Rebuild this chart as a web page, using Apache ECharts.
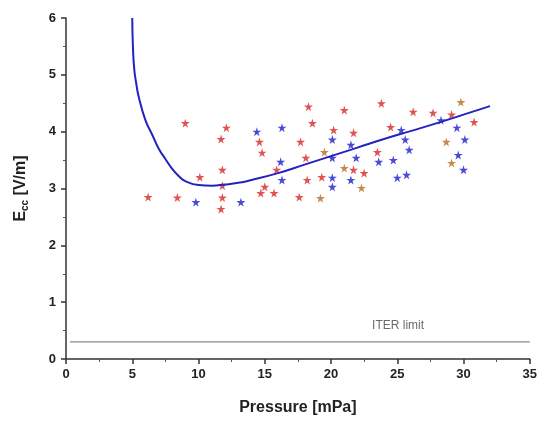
<!DOCTYPE html>
<html>
<head>
<meta charset="utf-8">
<script src="https://cdn.jsdelivr.net/npm/echarts@6/dist/echarts.min.js"></script>
<style>
  html, body { margin: 0; padding: 0; background: #ffffff; }
  #chart { width: 540px; height: 422px; }
</style>
</head>
<body>
<div id="chart"></div>
<script>
// Fitted breakdown field vs pressure
const fitCurve = [
  [5.0, 6.0], [5.05, 5.5], [5.15, 5.1], [5.3, 4.85], [5.5, 4.6], [6.0, 4.2], [6.5, 3.95],
  [7.0, 3.7], [7.5, 3.52], [8.0, 3.35], [8.5, 3.22], [9.0, 3.13], [10, 3.06],
  [11, 3.05], [12, 3.07], [13, 3.1], [14, 3.15], [16, 3.27], [18, 3.42],
  [20, 3.57], [22, 3.72], [24, 3.87], [26, 4.01], [28, 4.15], [30, 4.3], [32, 4.45]
];

// Measured discharges
const redShots = [
  [9.0, 4.15], [12.1, 4.07], [11.7, 3.87], [6.2, 2.85], [8.4, 2.84], [10.1, 3.2],
  [11.8, 3.33], [11.8, 3.05], [11.8, 2.84], [11.7, 2.64], [18.3, 4.44], [21.0, 4.38],
  [23.8, 4.5], [18.6, 4.15], [20.2, 4.03], [14.6, 3.82], [17.7, 3.82], [21.7, 3.98],
  [24.5, 4.08], [14.8, 3.63], [23.5, 3.64], [18.1, 3.54], [15.9, 3.33], [18.2, 3.15],
  [19.3, 3.2], [21.7, 3.33], [22.5, 3.27], [15.0, 3.03], [15.7, 2.92], [17.6, 2.85],
  [14.7, 2.92], [26.2, 4.35], [27.7, 4.33], [29.1, 4.3], [30.8, 4.17]
];
const blueShots = [
  [9.8, 2.76], [13.2, 2.76], [14.4, 4.0], [16.3, 4.07], [20.1, 3.86], [21.5, 3.77],
  [16.2, 3.47], [20.1, 3.54], [21.9, 3.54], [23.6, 3.47], [24.7, 3.5], [16.3, 3.15],
  [20.1, 3.19], [20.1, 3.03], [21.5, 3.15], [25.0, 3.19], [25.7, 3.24], [28.3, 4.2],
  [29.5, 4.07], [30.1, 3.86], [25.3, 4.03], [25.6, 3.86], [25.9, 3.68], [29.6, 3.59],
  [30.0, 3.33]
];
const orangeShots = [
  [19.5, 3.64], [21.0, 3.36], [22.3, 3.01], [19.2, 2.83], [29.8, 4.52], [28.7, 3.82],
  [29.1, 3.45]
];

// ITER operating limit
const iterLimit = 0.3;
const iterLabelPos = [23.1, 0.58];

const xTicks = [0, 5, 10, 15, 20, 25, 30, 35];
const yTicks = [0, 1, 2, 3, 4, 5, 6];

const starPath = 'path://M50,0 L61,35 L98,35 L68,57 L79,91 L50,70 L21,91 L32,57 L2,35 L39,35 Z';
const fontFamily = '"Liberation Sans", Arial, sans-serif';

const chart = echarts.init(document.getElementById('chart'), null, { renderer: 'canvas' });

function shotSeries(data, color) {
  return {
    type: 'scatter',
    data: data,
    symbol: starPath,
    symbolSize: 9,
    itemStyle: { color: color, opacity: 0.85 },
    z: 3
  };
}

chart.setOption({
  animation: false,
  backgroundColor: '#ffffff',
  grid: { left: 66, right: 9, top: 18, bottom: 63 },
  xAxis: {
    type: 'value',
    min: xTicks[0],
    max: xTicks[xTicks.length - 1],
    interval: 5,
    name: 'Pressure [mPa]',
    nameLocation: 'middle',
    nameGap: 41,
    nameTextStyle: { fontFamily, fontSize: 16, fontWeight: 'bold', color: '#222' },
    axisLine: { lineStyle: { color: '#333', width: 1.5 } },
    axisTick: { inside: false, length: 5, lineStyle: { color: '#333', width: 1.5 } },
    minorTick: { show: true, splitNumber: 2, length: 3, lineStyle: { color: '#555' } },
    splitLine: { show: false },
    axisLabel: { fontFamily, fontSize: 13, fontWeight: 'bold', color: '#222', margin: 9 }
  },
  yAxis: {
    type: 'value',
    min: yTicks[0],
    max: yTicks[yTicks.length - 1],
    interval: 1,
    name: '{e|E}{s|cc}{e| [V/m]}',
    nameLocation: 'middle',
    nameGap: 36,
    nameTextStyle: {
      fontFamily, color: '#222',
      rich: {
        e: { fontFamily, fontSize: 16, fontWeight: 'bold', color: '#222' },
        s: { fontFamily, fontSize: 10, fontWeight: 'bold', color: '#222', verticalAlign: 'bottom', padding: [8, 0, 0, 0] }
      }
    },
    axisLine: { show: true, lineStyle: { color: '#333', width: 1.5 } },
    axisTick: { show: true, inside: false, length: 5, lineStyle: { color: '#333', width: 1.5 } },
    minorTick: { show: true, splitNumber: 2, length: 3, lineStyle: { color: '#555' } },
    splitLine: { show: false },
    axisLabel: { fontFamily, fontSize: 13, fontWeight: 'bold', color: '#222', margin: 10 }
  },
  series: [
    {
      type: 'line',
      data: [[0.3, iterLimit], [35, iterLimit]],
      symbol: 'none',
      lineStyle: { color: '#8a8a8a', width: 1.2 },
      z: 1
    },
    {
      type: 'scatter',
      data: [iterLabelPos],
      symbolSize: 0,
      label: {
        show: true,
        position: 'right',
        distance: 0,
        formatter: 'ITER limit',
        fontFamily, fontSize: 12, color: '#444'
      },
      z: 1
    },
    shotSeries(redShots, '#dc3535'),
    shotSeries(orangeShots, '#b8762e'),
    shotSeries(blueShots, '#2a2ad2'),
    {
      type: 'line',
      data: fitCurve,
      smooth: true,
      symbol: 'none',
      lineStyle: { color: '#2323c0', width: 2 },
      z: 4
    }
  ]
});
</script>
</body>
</html>
